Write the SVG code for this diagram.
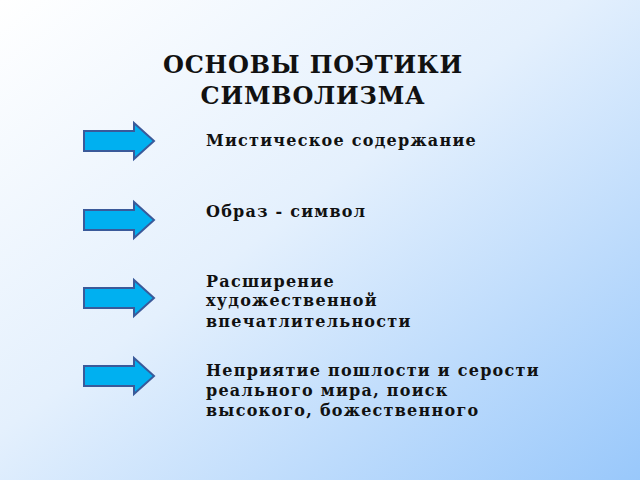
<svg xmlns="http://www.w3.org/2000/svg" width="640" height="480" viewBox="0 0 640 480">
<defs>
<linearGradient id="bg" x1="0" y1="0" x2="1" y2="1">
<stop offset="0" stop-color="#ffffff"/><stop offset="0.45" stop-color="#e4f0fd"/><stop offset="1" stop-color="#99c8fb"/>
</linearGradient>
<path id="arr" d="M0,8 H50 V0 L70,18 L50,36 V28 H0 Z"/>
</defs>
<style>
.a{fill:#00b0f0;stroke:#3a5a9a;stroke-width:2}
.t{font-family:"DejaVu Serif",serif;font-weight:bold;font-size:16px;letter-spacing:1.25px;fill:#111}
.h{font-family:"DejaVu Serif",serif;font-weight:bold;font-size:24px;letter-spacing:0.8px;fill:#111;text-anchor:middle}
</style>
<rect width="640" height="480" fill="url(#bg)"/>
<g id="title"><text class="h" x="313" y="73">ОСНОВЫ ПОЭТИКИ</text><text class="h" x="313" y="104">СИМВОЛИЗМА</text></g>
<g id="connectors">
<use href="#arr" class="a" x="84" y="123"/>
<use href="#arr" class="a" x="84" y="202"/>
<use href="#arr" class="a" x="84" y="280"/>
<use href="#arr" class="a" x="84" y="358"/>
</g>
<g id="n1"><text class="t" x="206" y="146">Мистическое содержание</text></g>
<g id="n2"><text class="t" x="206" y="217">Образ - символ</text></g>
<g id="n3"><text class="t" x="206" y="287">Расширение</text><text class="t" x="206" y="306">художественной</text><text class="t" x="206" y="327">впечатлительности</text></g>
<g id="n4"><text class="t" x="206" y="376">Неприятие пошлости и серости</text><text class="t" x="206" y="396">реального мира, поиск</text><text class="t" x="206" y="416">высокого, божественного</text></g>
</svg>
